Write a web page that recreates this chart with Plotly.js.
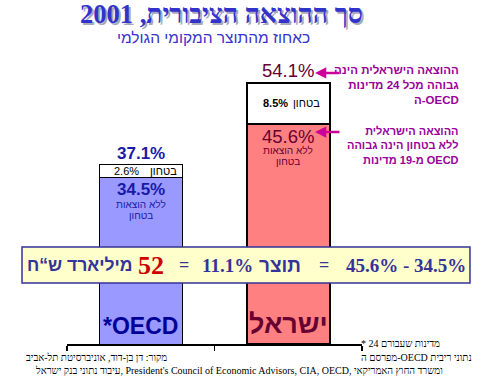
<!DOCTYPE html>
<html>
<head>
<meta charset="utf-8">
<script src="https://cdn.plot.ly/plotly-3.0.1.min.js"></script>
<style>
html,body{margin:0;padding:0;background:#fff;}
#chart{width:481px;height:376px;}
</style>
</head>
<body>
<div id="chart"></div>
<script>
// ---- data ----
const categories = ['OECD', 'ישראל'];
const categoryLabels = ['*OECD', 'ישראל'];
const nonDefense = [34.5, 45.6];
const defense = [2.6, 8.5];
const totals = [37.1, 54.1];
const gapPct = 11.1;
const gapBillions = 52;

const titleText = 'סך ההוצאה הציבורית, 2001';
const subtitleText = 'כאחוז מהתוצר המקומי הגולמי';
const defenseWord = 'בטחון';
const nonDefenseLine1 = 'ללא הוצאות';
const nonDefenseLine2 = 'בטחון';
const note1 = 'ההוצאה הישראלית הינה<br>גבוהה מכל 24 מדינות<br>ה-OECD';
const note2 = 'ההוצאה הישראלית<br>ללא בטחון הינה גבוהה<br>מ-19 מדינות OECD';
const footStar1 = '* 24 מדינות שעבורם';
const footStar2 = 'מפרסם ה-OECD נתוני ריבית';
const source1 = 'מקור: דן בן-דוד, אוניברסיטת תל-אביב';
const source2 = "עיבוד נתוני בנק ישראל, President's Council of Economic Advisors, CIA, OECD, ומשרד החוץ האמריקאי";

const barColors = ['#9999ff', '#ff8080'];
const totalColors = ['#1a1aa8', '#660033'];
const SANS = 'Liberation Sans, Arial, DejaVu Sans, sans-serif';
const SERIF = 'Liberation Serif, Times New Roman, Liberation Sans, DejaVu Sans, serif';
const NAVY = '#333399';

const traces = [
  {
    type: 'bar', x: categories, y: nonDefense,
    marker: {color: barColors, line: {color: '#000', width: [1, 2]}},
    width: 0.56, hoverinfo: 'none'
  },
  {
    type: 'bar', x: categories, y: defense,
    marker: {color: ['#ffffff', '#ffffff'], line: {color: '#000', width: [1, 2]}},
    width: 0.56, hoverinfo: 'none'
  }
];

const ann = [];
function P(o) { // paper-referenced text, explicit anchors
  return Object.assign({xref:'paper', yref:'paper', xanchor:'center', yanchor:'middle', showarrow:false, borderpad:0}, o);
}
function D(o) { // data-referenced text
  return Object.assign({xanchor:'center', yanchor:'middle', showarrow:false, borderpad:0}, o);
}
// title with shadow
ann.push(P({x:0.5254, y:1.137, xshift:1.5, yshift:-1.5, text:titleText,
  font:{family:SERIF, size:26.5, color:'#a8a8bc', weight:700}}));
ann.push(P({x:0.5254, y:1.137, text:titleText,
  font:{family:SERIF, size:26.5, color:'#3333cc', weight:700}}));
ann.push(P({x:0.498, y:1.056, text:subtitleText,
  font:{family:SANS, size:15.5, color:'#3333cc'}}));

// bar labels
for (let i = 0; i < categories.length; i++) {
  const big = i === 0 ? 17 : 18.5;
  ann.push(D({x:categories[i], y:totals[i], yanchor:'bottom', yshift:1, text:totals[i].toFixed(1)+'%',
    font:{family:SANS, size:big, color:totalColors[i], weight: i===0 ? 700 : 400}}));
  ann.push(D({x:categories[i], y:nonDefense[i], yanchor:'top', yshift:-1, text:nonDefense[i].toFixed(1)+'%',
    font:{family:SANS, size:big, color:totalColors[i], weight: i===0 ? 700 : 400}}));
  ann.push(D({x:categories[i], y:nonDefense[i], yshift:-27, text:nonDefenseLine1,
    font:{family:SANS, size:10, color:totalColors[i]}}));
  ann.push(D({x:categories[i], y:nonDefense[i], yshift:-38, text:nonDefenseLine2,
    font:{family:SANS, size:10, color:totalColors[i]}}));
  // defense segment text: number then word
  ann.push(D({x:categories[i], y:nonDefense[i] + defense[i]/2, xanchor:'right', xshift:(i===0 ? -1 : 1),
    text: (i===1 ? '<b>'+defense[i].toFixed(1)+'%</b>' : defense[i].toFixed(1)+'%'),
    font:{family:SANS, size:11, color:'#000'}}));
  ann.push(D({x:categories[i], y:nonDefense[i] + defense[i]/2, xanchor:'left', xshift:(i===0 ? 8 : 4), text:defenseWord,
    font:{family:SANS, size:11, color:'#000'}}));
  ann.push(D({x:categories[i], y:0, yanchor:'bottom', yshift:4, text:categoryLabels[i],
    font:{family:SANS, size:(i===0 ? 23 : 27), color:(i===0 ? '#000099' : '#660033'), weight:700}}));
}

// side notes with arrows
ann.push(P({x:1.3322, y:0.893, xanchor:'right', align:'right', text:note1,
  font:{family:SANS, size:11.5, color:'#990099', weight:700}}));
ann.push(P({x:1.3322, y:0.686, xanchor:'right', align:'right', text:note2,
  font:{family:SANS, size:11, color:'#990099', weight:700}}));
ann.push({xref:'paper', yref:'paper', x:0.8407, y:0.9345, ax:26, ay:0, text:'', showarrow:true,
  arrowhead:2, arrowsize:0.9, arrowwidth:2.5, arrowcolor:'#cc0099'});
ann.push({xref:'paper', yref:'paper', x:0.8407, y:0.731, ax:26, ay:0, text:'', showarrow:true,
  arrowhead:2, arrowsize:0.9, arrowwidth:2.5, arrowcolor:'#cc0099'});

// equation box pieces
const by = 0.2724;
ann.push(P({x:0.041, y:by, text:'מיליארד ש“ח',
  font:{family:SANS, size:17.5, color:NAVY, weight:700}}));
ann.push(P({x:0.285, y:by, text:String(gapBillions),
  font:{family:SERIF, size:26, color:'#cc0000', weight:700}}));
ann.push(P({x:0.395, y:by, text:'=',
  font:{family:SERIF, size:18, color:NAVY, weight:700}}));
ann.push(P({x:0.544, y:by, text:gapPct.toFixed(1)+'%',
  font:{family:SERIF, size:19, color:NAVY, weight:700}}));
ann.push(P({x:0.722, y:by, text:'תוצר',
  font:{family:SANS, size:19, color:NAVY, weight:700}}));
ann.push(P({x:0.871, y:by, text:'=',
  font:{family:SERIF, size:18, color:NAVY, weight:700}}));
ann.push(P({x:1.149, y:by, text:nonDefense[1].toFixed(1)+'% - '+nonDefense[0].toFixed(1)+'%',
  font:{family:SERIF, size:19, color:NAVY, weight:700}}));

// footnotes
ann.push(P({x:1.0, y:0.003, xanchor:'left', xshift:-2, text:footStar1,
  font:{family:SERIF, size:10, color:'#000'}}));
ann.push(P({x:1.0, y:-0.045, xanchor:'left', xshift:-2, text:footStar2,
  font:{family:SERIF, size:10, color:'#000'}}));
ann.push(P({x:0.342, y:-0.048, xanchor:'right', text:source1,
  font:{family:SERIF, size:10, color:'#000'}}));
ann.push(P({x:0.583, y:-0.0897, text:source2,
  font:{family:SERIF, size:10, color:'#000'}}));

const layout = {
  width: 481, height: 376,
  margin: {l:67, r:119, t:54, b:32, pad:0},
  paper_bgcolor: '#ffffff', plot_bgcolor: '#ffffff',
  barmode: 'stack', showlegend: false,
  xaxis: {type:'category', range:[-0.5, 1.5], showgrid:false, zeroline:false, showline:true, linecolor:'#000', linewidth:2,
    ticks:'outside', tickson:'boundaries', ticklen:5, tickwidth:1.5, tickcolor:'#000', showticklabels:false, fixedrange:true},
  yaxis: {range:[0, 60.1], showgrid:false, zeroline:false, showline:false, showticklabels:false, ticks:'', fixedrange:true},
  shapes: [{type:'rect', xref:'paper', yref:'paper', x0:-0.1525, x1:1.366, y0:0.2103, y1:0.3345,
    fillcolor:'#ffffcc', line:{color:NAVY, width:1.5}, layer:'above'}],
  annotations: ann
};

Plotly.newPlot('chart', traces, layout, {staticPlot:true, displayModeBar:false});
</script>
</body>
</html>
